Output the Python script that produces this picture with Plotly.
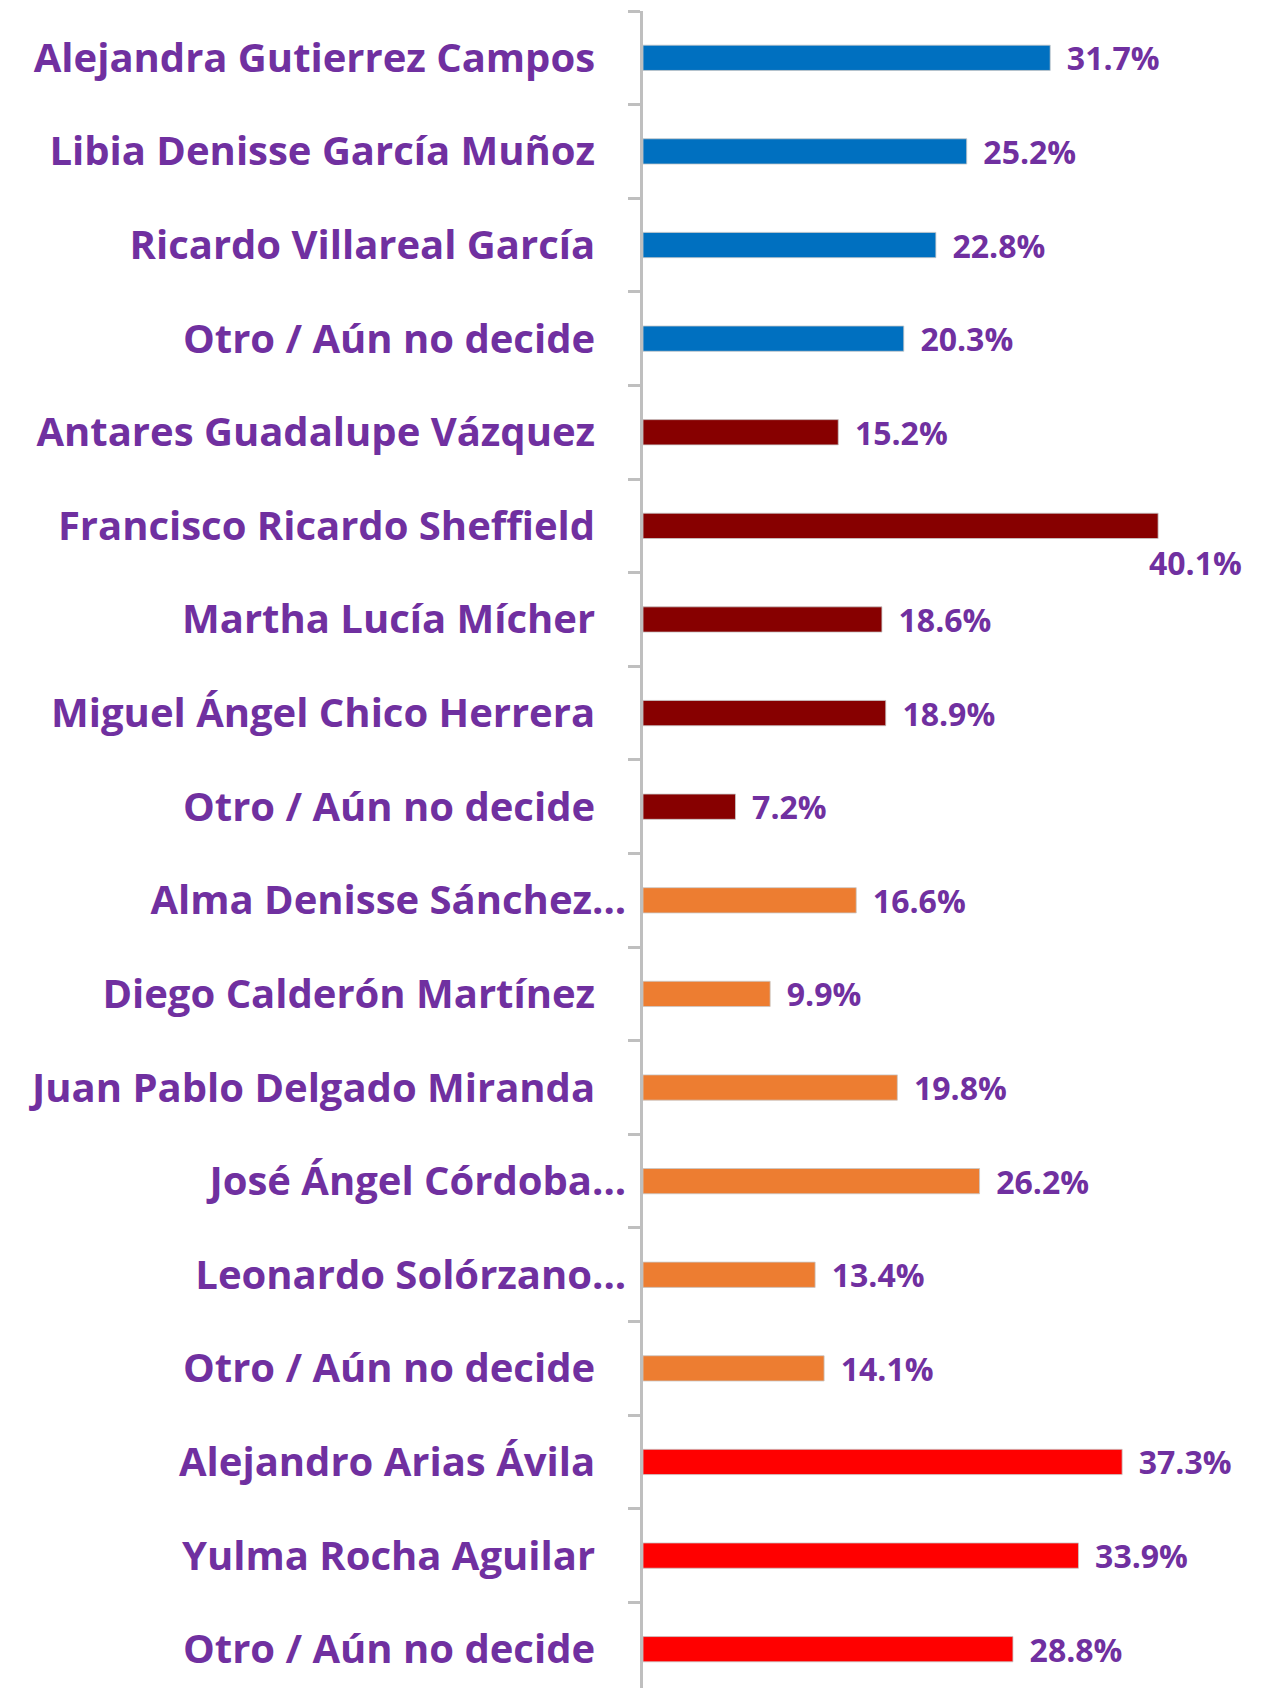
import plotly.graph_objects as go

names = [
    "Alejandra Gutierrez Campos",
    "Libia Denisse García Muñoz",
    "Ricardo Villareal García",
    "Otro / Aún no decide",
    "Antares Guadalupe Vázquez",
    "Francisco Ricardo Sheffield",
    "Martha Lucía Mícher",
    "Miguel Ángel Chico Herrera",
    "Otro / Aún no decide",
    "Alma Denisse Sánchez...",
    "Diego Calderón Martínez",
    "Juan Pablo Delgado Miranda",
    "José Ángel Córdoba...",
    "Leonardo Solórzano...",
    "Otro / Aún no decide",
    "Alejandro Arias Ávila",
    "Yulma Rocha Aguilar",
    "Otro / Aún no decide",
]
values = [31.7, 25.2, 22.8, 20.3, 15.2, 40.1, 18.6, 18.9, 7.2,
          16.6, 9.9, 19.8, 26.2, 13.4, 14.1, 37.3, 33.9, 28.8]
groups = ["blue"] * 4 + ["maroon"] * 5 + ["orange"] * 6 + ["red"] * 3
label_below = [False] * 18
label_below[5] = True

palette = {"blue": "#0070C0", "maroon": "#870000", "orange": "#ED7D31", "red": "#FF0000"}
colors = [palette[g] for g in groups]
purple = "#7030A0"
FONT = "Open Sans"

ypos = list(range(len(names)))
NB = "\u00a0"
ticktext = [n if n.endswith("...") else n + NB * 3 for n in names]
texts = ["" if b else f"{NB}\u2009{v:.1f}%" for v, b in zip(values, label_below)]

fig = go.Figure()
fig.add_trace(go.Bar(
    x=values, y=ypos, orientation="h",
    marker=dict(color=colors, line=dict(color="#C8C8C8", width=0.8)),
    width=0.27,
    text=texts, textposition="outside", cliponaxis=False, constraintext="none",
    outsidetextfont=dict(family=FONT, size=32, color=purple, weight="bold"),
    hoverinfo="skip",
))

for v, y, b in zip(values, ypos, label_below):
    if b:
        fig.add_annotation(x=v, y=y, text=f"{v:.1f}%", showarrow=False,
                           xanchor="left", yanchor="middle", xshift=-11, yshift=-37,
                           font=dict(family=FONT, size=32, color=purple, weight="bold"))

fig.update_layout(
    width=1276, height=1688,
    margin=dict(l=635, r=0, t=3, b=0),
    plot_bgcolor="white", paper_bgcolor="white",
    showlegend=False,
    xaxis=dict(range=[0, 49.9], visible=False, showgrid=False, zeroline=False),
    yaxis=dict(
        range=[17.5, -0.5],
        tickvals=ypos, ticktext=ticktext,
        ticks="", showgrid=False, zeroline=False,
        showline=True, linecolor="#BFBFBF", linewidth=2.5,
        ticklabelstandoff=6,
        tickfont=dict(family=FONT, size=40, color=purple, weight="bold"),
        minor=dict(tick0=0.5, dtick=1, ticks="outside", ticklen=12,
                   tickcolor="#BFBFBF", tickwidth=2.5, showgrid=False),
    ),
)

fig.write_html("out.html")
